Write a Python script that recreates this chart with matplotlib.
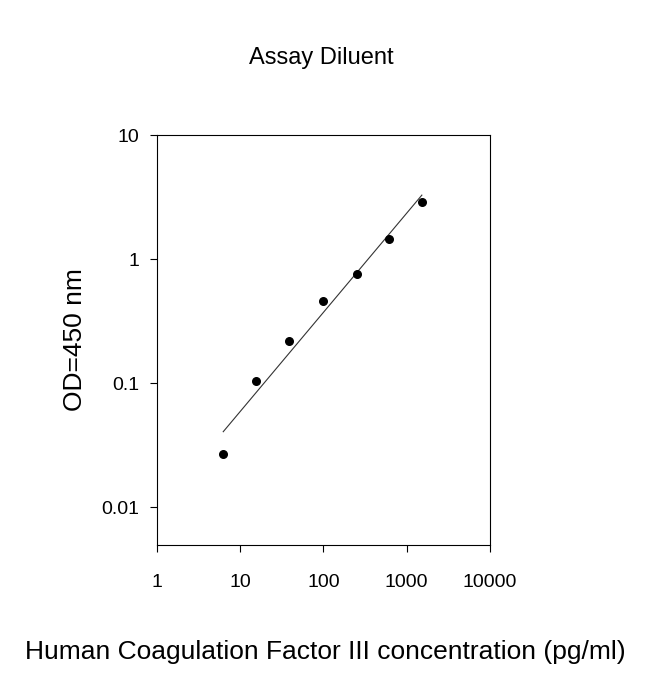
import numpy as np
import matplotlib
matplotlib.use("Agg")
import matplotlib.pyplot as plt

plt.rcParams['font.family'] = ['Liberation Sans', 'DejaVu Sans']

conc = [6.25, 15.6, 39, 100, 250, 610, 1520]
od = [0.027, 0.104, 0.218, 0.458, 0.757, 1.45, 2.88]
xticks = [1, 10, 100, 1000, 10000]
xticklabels = ['1', '10', '100', '1000', '10000']
yticks = [0.01, 0.1, 1, 10]
yticklabels = ['0.01', '0.1', '1', '10']

fig = plt.figure(figsize=(6.5, 6.74), dpi=100)
ax = fig.add_axes([0.2415, 0.1914, 0.5123, 0.6083])

lx, ly = np.log10(conc), np.log10(od)
b, a = np.polyfit(lx, ly, 1)
xl = np.array([conc[0], conc[-1]])
ax.plot(xl, 10**(a + b*np.log10(xl)), color='#333333', lw=0.8)
ax.scatter(conc, od, s=30, color='black', zorder=3)

ax.set_xscale('log'); ax.set_yscale('log')
ax.set_xlim(1, 10000); ax.set_ylim(0.00494, 10)
ax.set_xticks(xticks); ax.set_xticklabels(xticklabels)
ax.set_yticks(yticks); ax.set_yticklabels(yticklabels)
ax.minorticks_off()
ax.tick_params(direction='out', labelsize=14, length=5, width=0.8, pad=8)
ax.tick_params(axis='x', pad=16)
for s in ax.spines.values():
    s.set_linewidth(0.8)

fig.text(0.494, 0.914, 'Assay Diluent', ha='center', va='center', fontsize=17)
fig.text(0.5, 0.033, 'Human Coagulation Factor III concentration (pg/ml)', ha='center', va='center', fontsize=19)
fig.text(0.115, 0.496, 'OD=450 nm', ha='center', va='center', rotation=90, fontsize=19)

fig.savefig('out.png', dpi=100)
